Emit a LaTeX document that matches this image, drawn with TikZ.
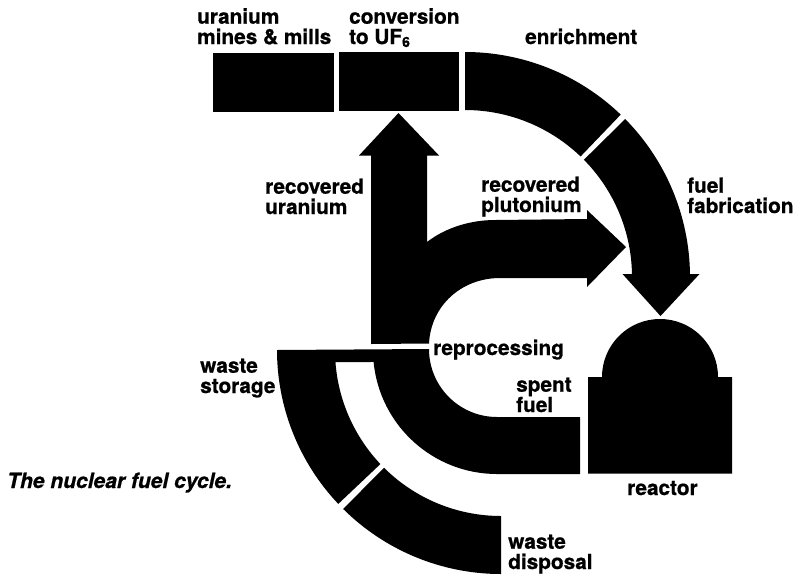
\documentclass[tikz,border=0pt]{standalone}
\usepackage{fontspec}
\setmainfont{TeX Gyre Heros}[BoldFeatures={FakeBold=0.8},BoldItalicFeatures={FakeBold=0.8}]
\begin{document}
\begin{tikzpicture}[x=1pt,y=1pt,
  blk/.style={fill=black,draw=none},
  lab/.style={inner sep=0pt,anchor=base west,align=left,text=black,
    font=\fontsize{20.8}{20.3}\selectfont\bfseries}]
\useasboundingbox (0,0) rectangle (802,-576);
\fill[white] (0,0) rectangle (802,-576);
% top boxes
\fill[blk] (213,-53) rectangle (334,-111.5);
\fill[blk] (339,-52) rectangle (459,-111);
% enrichment
\fill[blk] (465,-52) arc[start angle=90,end angle=46.2,radius=225]
  -- ([shift={(46.2:167)}]465,-277) arc[start angle=46.2,end angle=90,radius=167] -- cycle;
% fuel fabrication arrow
\fill[blk] ([shift={(44.6:225)}]465,-277) arc[start angle=44.6,end angle=0.76,radius=225]
  -- (699.5,-274) -- (660.5,-316) -- (622.5,-274)
  -- ([shift={(1:167)}]465,-277) arc[start angle=1,end angle=44.6,radius=167] -- cycle;
% recovered uranium / plutonium arrows
\fill[blk] (371,-344) -- (371,-155.5) -- (359,-155.5) -- (398.5,-113) -- (439,-155.5) -- (427,-155.5)
  -- (427,-242) .. controls (445,-228) and (470,-220) .. (495,-220)
  -- (587,-219) -- (587,-210) -- (626,-247) -- (587,-287) -- (587,-278) -- (500,-278)
  .. controls (462,-278) and (431,-305) .. (429,-343.5) -- cycle;
% spent fuel and waste storage
\fill[blk] (277,-350) -- (429,-349)
  arc[start angle=180,end angle=270,radius=68]
  -- (580,-417) -- (580,-474) -- (497,-474)
  arc[start angle=270,end angle=185.55,radius=124]
  -- ([shift={(184.15:166)}]501,-350)
  arc[start angle=184.15,end angle=223.4,radius=166]
  -- ([shift={(223.4:224)}]501,-350)
  arc[start angle=223.4,end angle=180,radius=224] -- cycle;
% waste disposal
\fill[blk] ([shift={(225.2:166)}]501,-350) arc[start angle=225.2,end angle=270,radius=166]
  -- (501,-574) arc[start angle=270,end angle=225.2,radius=224] -- cycle;
% reactor
\fill[blk] (588,-377) -- (602,-377) arc[start angle=180,end angle=0,radius=58] -- (732,-377)
  -- (732,-473.5) -- (588,-473.5) -- cycle;
% labels
\node[lab] (umines) at (197,-44) {uranium\\mines \& mills};
\node[lab] (conv) at (349,-44) {conversion\\to UF\raisebox{-3pt}{\fontsize{14}{14}\selectfont 6}};
\node[lab] (enrich) at (525,-44) {enrichment};
\node[lab] (recu) at (265,-214) {recovered\\uranium};
\node[lab] (recp) at (481,-212) {recovered\\plutonium};
\node[lab] (fab) at (687,-213) {fuel\\fabrication};
\node[lab] (repro) at (433,-355) {reprocessing};
\node[lab] (spent) at (516,-412) {spent\\fuel};
\node[lab] (stor) at (200,-393) {waste\\storage};
\node[lab] (disp) at (508,-569) {waste\\disposal};
\node[lab] (react) at (627,-495) {reactor};
\node[lab,font=\fontsize{21}{21}\selectfont\bfseries\itshape] (cap) at (7,-488) {The nuclear fuel cycle.};
\end{tikzpicture}
\end{document}
